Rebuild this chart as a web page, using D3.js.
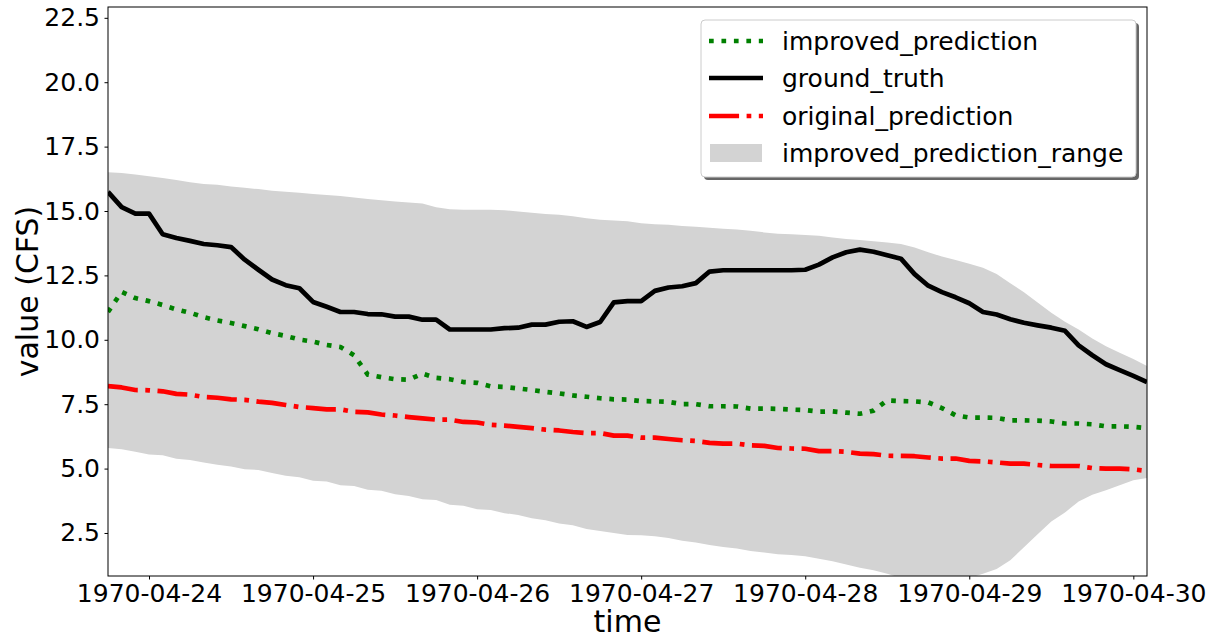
<!DOCTYPE html>
<html>
<head>
<meta charset="utf-8">
<script src="https://cdn.jsdelivr.net/npm/d3@7"></script>
<style>
	body { margin: 0; background: #fff; }
	svg { display: block; font-family: "DejaVu Sans", sans-serif; }
</style>
</head>
<body>
<main></main>
<script>

// hours after 1970-04-23 18:00 UTC
const hours = [0, 2, 4, 6, 8, 10, 12, 14, 16, 18, 20, 22, 24, 26, 28, 30, 32, 34, 36, 38,
	40, 42, 44, 46, 48, 50, 52, 54, 56, 58, 60, 62, 64, 66, 68, 70, 72, 74, 76, 78,
	80, 82, 84, 86, 88, 90, 92, 94, 96, 98, 100, 102, 104, 106, 108, 110, 112, 114, 116, 118,
	120, 122, 124, 126, 128, 130, 132, 134, 136, 138, 140, 142, 144, 146, 148, 150, 152];

const groundTruth = [15.74, 15.15, 14.9, 14.9, 14.1, 13.95, 13.84, 13.72, 13.67, 13.6,
	13.11, 12.72, 12.34, 12.12, 12.0, 11.47, 11.28, 11.08, 11.08, 11.0,
	10.99, 10.9, 10.9, 10.78, 10.78, 10.4, 10.4, 10.4, 10.4, 10.45,
	10.47, 10.59, 10.59, 10.7, 10.72, 10.5, 10.69, 11.45, 11.5, 11.5,
	11.9, 12.03, 12.08, 12.2, 12.65, 12.7, 12.7, 12.7, 12.7, 12.7,
	12.7, 12.72, 12.92, 13.2, 13.4, 13.5, 13.42, 13.28, 13.15, 12.55,
	12.1, 11.85, 11.65, 11.42, 11.08, 10.98, 10.8, 10.66, 10.56, 10.47,
	10.35, 9.78, 9.4, 9.05, 8.82, 8.6, 8.36];

const improvedPrediction = [11.08, 11.86, 11.62, 11.5, 11.35, 11.18, 11.05, 10.88, 10.75, 10.65,
	10.53, 10.41, 10.26, 10.15, 10.01, 9.93, 9.8, 9.72, 9.4, 8.65,
	8.55, 8.47, 8.45, 8.69, 8.52, 8.47, 8.36, 8.33, 8.19, 8.17,
	8.11, 8.05, 7.98, 7.92, 7.84, 7.79, 7.73, 7.69, 7.68, 7.62,
	7.61, 7.59, 7.5, 7.5, 7.42, 7.42, 7.41, 7.33, 7.33, 7.32,
	7.29, 7.27, 7.21, 7.22, 7.17, 7.13, 7.25, 7.65, 7.62, 7.61,
	7.57, 7.35, 7.07, 6.98, 6.98, 6.97, 6.87, 6.87, 6.86, 6.83,
	6.75, 6.75, 6.72, 6.64, 6.64, 6.62, 6.57];

const originalPrediction = [8.2, 8.15, 8.05, 8.04, 8.0, 7.9, 7.87, 7.78, 7.75, 7.69,
	7.67, 7.6, 7.55, 7.47, 7.39, 7.35, 7.3, 7.3, 7.2, 7.18,
	7.1, 7.06, 7.0, 6.95, 6.9, 6.9, 6.81, 6.79, 6.7, 6.67,
	6.62, 6.57, 6.51, 6.48, 6.42, 6.38, 6.38, 6.28, 6.28, 6.2,
	6.2, 6.15, 6.1, 6.07, 6.0, 5.97, 5.97, 5.9, 5.88, 5.8,
	5.78, 5.77, 5.68, 5.68, 5.65, 5.58, 5.56, 5.5, 5.49, 5.48,
	5.43, 5.39, 5.39, 5.3, 5.28, 5.24, 5.19, 5.19, 5.14, 5.1,
	5.1, 5.1, 5.02, 5.0, 5.0, 4.97, 4.91];

const rangeUpper = [16.5, 16.48, 16.42, 16.35, 16.28, 16.2, 16.12, 16.05, 16.02, 15.95,
	15.9, 15.85, 15.79, 15.75, 15.71, 15.66, 15.62, 15.58, 15.52, 15.47,
	15.42, 15.37, 15.33, 15.29, 15.15, 15.07, 15.05, 15.05, 15.05, 15.03,
	14.98, 14.93, 14.88, 14.85, 14.8, 14.72, 14.66, 14.63, 14.6, 14.52,
	14.49, 14.47, 14.42, 14.39, 14.35, 14.31, 14.28, 14.23, 14.17, 14.12,
	14.1, 14.07, 14.04, 13.97, 13.91, 13.87, 13.83, 13.78, 13.72, 13.58,
	13.4, 13.23, 13.1, 12.95, 12.8, 12.55, 12.2, 11.85, 11.45, 11.05,
	10.7, 10.4, 10.05, 9.75, 9.5, 9.25, 8.98];

const rangeLower = [5.8, 5.75, 5.65, 5.55, 5.52, 5.38, 5.33, 5.24, 5.15, 5.08,
	4.97, 4.95, 4.83, 4.72, 4.66, 4.53, 4.5, 4.35, 4.32, 4.18,
	4.14, 4.0, 3.94, 3.81, 3.78, 3.6, 3.56, 3.42, 3.39, 3.27,
	3.2, 3.07, 2.99, 2.87, 2.8, 2.65, 2.58, 2.5, 2.42, 2.41,
	2.37, 2.31, 2.2, 2.13, 2.03, 1.96, 1.9, 1.8, 1.74, 1.67,
	1.65, 1.6, 1.5, 1.4, 1.28, 1.15, 1.05, 0.92, 0.75, 0.65,
	0.6, 0.6, 0.65, 0.75, 0.92, 1.1, 1.44, 1.95, 2.45, 2.95,
	3.3, 3.72, 3.98, 4.16, 4.35, 4.55, 4.63];

const yTicks = [2.5, 5.0, 7.5, 10.0, 12.5, 15.0, 17.5, 20.0, 22.5];
const xTickDays = ["1970-04-24", "1970-04-25", "1970-04-26", "1970-04-27", "1970-04-28", "1970-04-29", "1970-04-30"];

const legendLabels = ["improved_prediction", "ground_truth", "original_prediction", "improved_prediction_range"];

function drawChart() {

	// 1. Access data

	const start = Date.UTC(1970, 3, 23, 18);
	const dataset = hours.map((h, i) => ({
		time: new Date(start + h * 3600 * 1000),
		truth: groundTruth[i],
		improved: improvedPrediction[i],
		original: originalPrediction[i],
		lower: rangeLower[i],
		upper: rangeUpper[i],
	}));
	const xAccessor = d => d.time;

	// 2. Create dimensions

	let dimensions = {
		width: 1215,
		height: 639,
		margin: {
			top: 7,
			bottom: 63,
			left: 108,
			right: 68,
		},
	};
	dimensions.boundedWidth = dimensions.width - dimensions.margin.left - dimensions.margin.right;
	dimensions.boundedHeight = dimensions.height - dimensions.margin.top - dimensions.margin.bottom;

	// 3. Draw canvas

	const canvas = d3.select("main")
		.append("svg")
		.attr("width", dimensions.width)
		.attr("height", dimensions.height);

	const graph = canvas.append("g")
		.attr("transform", `translate(${dimensions.margin.left},${dimensions.margin.top})`);

	graph.append("defs").append("clipPath")
		.attr("id", "plot-clip")
		.append("rect")
		.attr("width", dimensions.boundedWidth)
		.attr("height", dimensions.boundedHeight);

	// 4. Create scales

	const xScale = d3.scaleUtc()
		.domain(d3.extent(dataset, xAccessor))
		.range([0, dimensions.boundedWidth]);

	const yScale = d3.scaleLinear()
		.domain([0.83, 22.92])
		.range([dimensions.boundedHeight, 0]);

	// 5. Draw data

	const plot = graph.append("g").attr("clip-path", "url(#plot-clip)");

	const band = d3.area()
		.x(d => xScale(xAccessor(d)))
		.y0(d => yScale(d.lower))
		.y1(d => yScale(d.upper));

	plot.append("path")
		.datum(dataset)
		.attr("d", band)
		.attr("fill", "lightgray");

	const lw = 4.7;
	const series = [
		{ key: "improved", color: "green", dash: `${lw} ${lw * 1.65}` },
		{ key: "truth", color: "black", dash: null },
		{ key: "original", color: "red", dash: `${lw * 6.4} ${lw * 1.6} ${lw} ${lw * 1.6}` },
	];

	series.forEach(s => {
		const line = d3.line()
			.x(d => xScale(xAccessor(d)))
			.y(d => yScale(d[s.key]));
		plot.append("path")
			.datum(dataset)
			.attr("d", line)
			.attr("fill", "none")
			.attr("stroke", s.color)
			.attr("stroke-width", lw)
			.attr("stroke-linejoin", "round")
			.attr("stroke-dasharray", s.dash);
	});

	// 6. Draw axes

	const parseDay = d3.utcParse("%Y-%m-%d");
	const xAxis = d3.axisBottom(xScale)
		.tickValues(xTickDays.map(parseDay))
		.tickFormat(d3.utcFormat("%Y-%m-%d"))
		.tickSize(3.5)
		.tickPadding(5);

	const yAxis = d3.axisLeft(yScale)
		.tickValues(yTicks)
		.tickFormat(d3.format(".1f"))
		.tickSize(3.5)
		.tickPadding(4.5);

	const xAxisGroup = graph.append("g")
		.attr("transform", `translate(0,${dimensions.boundedHeight})`)
		.call(xAxis);
	const yAxisGroup = graph.append("g").call(yAxis);

	[xAxisGroup, yAxisGroup].forEach(g => {
		g.select(".domain").remove();
		g.selectAll(".tick line").attr("stroke", "#000").attr("stroke-width", 1);
		g.selectAll(".tick text")
			.attr("fill", "#000")
			.style("font-family", "DejaVu Sans")
			.style("font-size", "25px");
	});

	graph.append("rect")
		.attr("width", dimensions.boundedWidth)
		.attr("height", dimensions.boundedHeight)
		.attr("fill", "none")
		.attr("stroke", "#000")
		.attr("stroke-width", 1);

	canvas.append("text")
		.attr("x", dimensions.margin.left + dimensions.boundedWidth / 2)
		.attr("y", 632)
		.attr("text-anchor", "middle")
		.style("font-size", "30px")
		.text("time");

	canvas.append("text")
		.attr("transform", `translate(38,${dimensions.margin.top + dimensions.boundedHeight / 2}) rotate(-90)`)
		.attr("text-anchor", "middle")
		.style("font-size", "30px")
		.text("value (CFS)");

	// 7. Draw legend

	const legend = canvas.append("g").attr("transform", "translate(701,20)");
	const boxW = 435;
	const boxH = 157;

	legend.append("rect")
		.attr("x", 3)
		.attr("y", 3)
		.attr("width", boxW)
		.attr("height", boxH)
		.attr("rx", 4)
		.attr("fill", "#666");

	legend.append("rect")
		.attr("width", boxW)
		.attr("height", boxH)
		.attr("rx", 4)
		.attr("fill", "#fff")
		.attr("stroke", "#ccc")
		.attr("stroke-width", 1);

	const rowY = [21, 58, 96, 133];

	series.forEach((s, i) => {
		legend.append("line")
			.attr("x1", 8)
			.attr("x2", 62)
			.attr("y1", rowY[i])
			.attr("y2", rowY[i])
			.attr("stroke", s.color)
			.attr("stroke-width", lw)
			.attr("stroke-dasharray", s.dash);
	});

	legend.append("rect")
		.attr("x", 9)
		.attr("y", rowY[3] - 9)
		.attr("width", 52)
		.attr("height", 18)
		.attr("fill", "lightgray");

	legend.selectAll("text.label")
		.data(legendLabels)
		.enter()
		.append("text")
		.attr("class", "label")
		.attr("x", 81)
		.attr("y", (d, i) => rowY[i] + 8.5)
		.style("font-size", "25px")
		.text(d => d);
}

drawChart();
</script>
</body>
</html>
